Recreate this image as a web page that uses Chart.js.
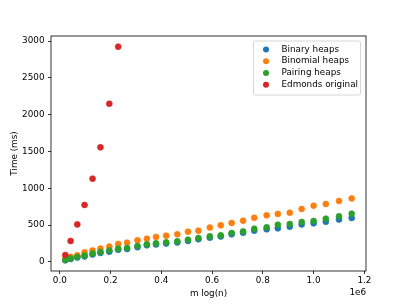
<!DOCTYPE html>
<html>
<head>
<meta charset="utf-8">
<script src="https://cdn.jsdelivr.net/npm/chart.js@4/dist/chart.umd.min.js"></script>
<style>
  html, body { margin: 0; padding: 0; background: #fff; }
  canvas { display: block; }
</style>
</head>
<body>
<canvas id="chart" width="407" height="305"></canvas>
<script>
// m log(n) for each run
const mLogN = [
  21600, 42500, 68800, 97500, 129000, 160000, 195000, 230000, 265000, 306000,
  343000, 379000, 419000, 463000, 505000, 546000, 591000, 634000, 677000, 722000,
  766000, 815000, 859000, 906000, 953000, 1000000, 1048000, 1100000, 1150000,
];

// times in ms
const binaryHeaps = [
  22, 40, 60, 75, 100, 122, 140, 165, 175, 200, 225, 238, 250, 265, 285, 308,
  330, 345, 375, 395, 425, 443, 456, 479, 510, 524, 545, 575, 597,
];
const binomialHeaps = [
  45, 70, 90, 130, 157, 181, 208, 244, 262, 293, 316, 340, 357, 375, 411, 425,
  466, 497, 529, 561, 599, 633, 652, 669, 719, 764, 787, 828, 863,
];
const pairingHeaps = [
  27, 49, 68, 86, 113, 136, 157, 181, 190, 217, 240, 253, 266, 280, 303, 326,
  348, 361, 394, 415, 450, 470, 506, 516, 543, 557, 588, 619, 656,
];
const edmondsOriginal = [95, 285, 510, 774, 1131, 1556, 2148, 2923];

const xTicks = [0, 200000, 400000, 600000, 800000, 1000000, 1200000];
const yTicks = [0, 500, 1000, 1500, 2000, 2500, 3000];

const FONT = 'DejaVu Sans';
const FS = 8.8;

const toPoints = (ys) => ys.map((y, i) => ({ x: mLogN[i], y: y }));

const series = [
  { label: 'Binary heaps', data: binaryHeaps, color: '#1f77b4', order: 3 },
  { label: 'Binomial heaps', data: binomialHeaps, color: '#ff7f0e', order: 2 },
  { label: 'Pairing heaps', data: pairingHeaps, color: '#2ca02c', order: 1 },
  { label: 'Edmonds original', data: edmondsOriginal, color: '#d62728', order: 0 },
];

// spines, legend box and the offset label
const decorations = {
  id: 'decorations',
  afterDatasetsDraw(chart) {
    const { ctx, chartArea: a } = chart;
    ctx.save();
    ctx.strokeStyle = '#000';
    ctx.lineWidth = 0.8;
    ctx.strokeRect(a.left, a.top, a.right - a.left, a.bottom - a.top);
    ctx.restore();
  },
  afterDraw(chart) {
    const { ctx, chartArea: a } = chart;
    ctx.save();

    // legend
    ctx.fillStyle = 'rgba(255,255,255,0.8)';
    ctx.strokeStyle = '#cccccc';
    ctx.lineWidth = 0.8;
    ctx.beginPath();
    ctx.roundRect(253.5, 41, 107, 54, 2);
    ctx.fill();
    ctx.stroke();

    ctx.font = `${FS}px "${FONT}"`;
    ctx.textBaseline = 'middle';
    ctx.textAlign = 'left';
    chart.data.datasets.forEach((ds, i) => {
      const y = 49.4 + i * 11.8;
      ctx.fillStyle = ds.backgroundColor;
      ctx.beginPath();
      ctx.arc(266, y, 3, 0, Math.PI * 2);
      ctx.fill();
      ctx.fillStyle = '#000';
      ctx.fillText(ds.label, 281.5, y);
    });

    // scientific offset for the x axis
    ctx.textAlign = 'right';
    ctx.fillText('1e6', a.right, 293);
    ctx.restore();
  },
};

const axisFont = { family: FONT, size: FS };

new Chart(document.getElementById('chart'), {
  type: 'scatter',
  plugins: [decorations],
  data: {
    datasets: series.map((s) => ({
      label: s.label,
      data: toPoints(s.data),
      backgroundColor: s.color,
      borderColor: s.color,
      pointRadius: 3,
      pointBorderWidth: 0.6,
      pointHoverRadius: 3,
      order: s.order,
    })),
  },
  options: {
    responsive: false,
    animation: false,
    events: [],
    layout: { padding: { top: 36, right: 41, left: 0, bottom: 0 } },
    plugins: {
      legend: { display: false },
      tooltip: { enabled: false },
    },
    scales: {
      x: {
        type: 'linear',
        position: 'bottom',
        min: -34800,
        max: 1206400,
        afterBuildTicks: (s) => {
          s.ticks = xTicks.map((v) => ({ value: v }));
        },
        afterFit: (s) => {
          s.height = 34;
        },
        border: { display: false },
        grid: {
          drawOnChartArea: false,
          drawTicks: true,
          tickLength: 3,
          color: '#000',
          lineWidth: 0.8,
        },
        ticks: {
          color: '#000',
          font: axisFont,
          padding: 1.5,
          maxRotation: 0,
          autoSkip: false,
          callback: (v) => (v / 1e6).toFixed(1),
        },
        title: {
          display: true,
          text: 'm log(n)',
          color: '#000',
          font: axisFont,
          padding: { top: 0, bottom: 5.7 },
        },
      },
      y: {
        type: 'linear',
        position: 'left',
        min: -123,
        max: 3068,
        afterBuildTicks: (s) => {
          s.ticks = yTicks.map((v) => ({ value: v }));
        },
        afterFit: (s) => {
          s.width = 51;
        },
        border: { display: false },
        grid: {
          drawOnChartArea: false,
          drawTicks: true,
          tickLength: 3,
          color: '#000',
          lineWidth: 0.8,
        },
        ticks: {
          color: '#000',
          font: axisFont,
          padding: 3.5,
          autoSkip: false,
          callback: (v) => String(v),
        },
        title: {
          display: true,
          text: 'Time (ms)',
          color: '#000',
          font: axisFont,
          padding: { top: 9.7, bottom: 0 },
        },
      },
    },
  },
});
</script>
</body>
</html>
